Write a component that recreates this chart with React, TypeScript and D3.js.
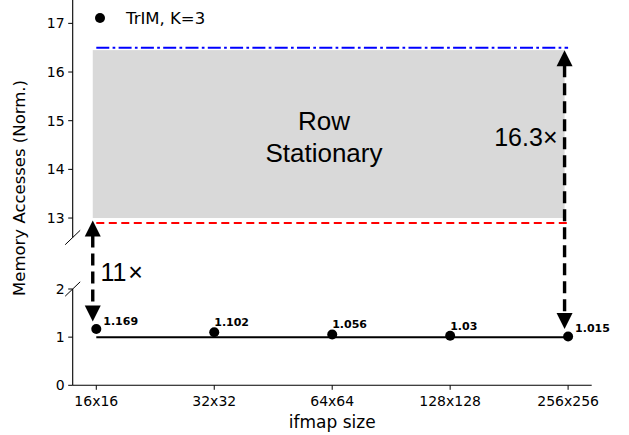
import React from 'react';
import * as d3 from 'd3';

// ifmap sizes on the x axis
const categories = ['16x16', '32x32', '64x64', '128x128', '256x256'];
// TrIM, K=3 normalised memory accesses
const trimValues = [1.169, 1.102, 1.056, 1.03, 1.015];
const trimLabels = ['1.169', '1.102', '1.056', '1.03', '1.015'];

const topTicks = [13, 14, 15, 16, 17];
const bottomTicks = [0, 1, 2];

// Row Stationary band (top panel) and reference lines
const rowStationaryBand = [13, 16.45];
const redLineValue = 12.9;
const blueLineValue = 16.5;
const baselineValue = 1;

// gap ratios written next to the arrows
const ratioLeft = '11';
const ratioRight = '16.3×';

const W = 629;
const H = 435;
const tickFont = 'DejaVu Sans, sans-serif';
const noteFont = 'Liberation Sans, Arial, sans-serif';

const App: React.FC = () => {
  const x = d3.scaleLinear().domain([-0.2, 4.2]).range([72.7, 591.7]);
  const yTop = d3.scaleLinear().domain([12.6, 17.48]).range([237.5, 0]);
  const yBot = d3.scaleLinear().domain([0, 2]).range([385.3, 289]);

  const axisX = x(-0.2);
  const last = categories.length - 1;

  const line = d3.line<number>()
    .x((_, i) => x(i))
    .y(() => yBot(baselineValue));

  // vertical double-headed dashed arrow
  const arrow = (ax: number, yTopTip: number, yBotTip: number) => {
    const hw = 8;
    const hh = 16;
    return (
      <g>
        <line x1={ax} x2={ax} y1={yTopTip + hh - 1} y2={yBotTip - hh + 1}
          stroke="#000" strokeWidth={3.4} strokeDasharray="12,6" />
        <path d={`M${ax},${yTopTip} L${ax - hw},${yTopTip + hh} L${ax + hw},${yTopTip + hh} Z`} fill="#000" />
        <path d={`M${ax},${yBotTip} L${ax - hw},${yBotTip - hh} L${ax + hw},${yBotTip - hh} Z`} fill="#000" />
      </g>
    );
  };

  const breakMark = (cy: number) => (
    <line x1={axisX - 7.5} x2={axisX + 7.5} y1={cy + 7.2} y2={cy - 7.2} stroke="#000" strokeWidth={1} />
  );

  return (
    <svg width={W} height={H} style={{ position: 'absolute', left: 0, top: 0, background: '#fff' }}>
      {/* Row Stationary band */}
      <rect x={x(-0.03)} width={x(3.97) - x(-0.03)}
        y={yTop(rowStationaryBand[1])} height={yTop(rowStationaryBand[0]) - yTop(rowStationaryBand[1])}
        fill="#d9d9d9" />
      <line x1={x(0)} x2={x(4)} y1={yTop(blueLineValue)} y2={yTop(blueLineValue)}
        stroke="#0000ff" strokeWidth={2} strokeDasharray="13,3.3,2.7,3.3" />
      <line x1={x(0)} x2={x(4)} y1={yTop(redLineValue)} y2={yTop(redLineValue)}
        stroke="#ff0000" strokeWidth={2} strokeDasharray="8,4.5" />

      <text textAnchor="middle" fontFamily={noteFont} fontSize={26} fill="#000">
        <tspan x={x(1.93)} y={yTop(14.8)}>Row</tspan>
        <tspan x={x(1.93)} y={yTop(14.15)}>Stationary</tspan>
      </text>
      <text x={x(3.91)} y={yTop(14.49)} textAnchor="end" fontFamily={noteFont} fontSize={25} fill="#000">
        {ratioRight}
      </text>
      <text x={x(0.035)} y={yBot(2) - 8} fontFamily={noteFont} fontSize={25} fill="#000">
        {ratioLeft}<tspan dx={2}>×</tspan>
      </text>

      {/* top panel axis */}
      <line x1={axisX} x2={axisX} y1={0} y2={yTop(12.6)} stroke="#000" strokeWidth={1.1} />
      {topTicks.map((t) => (
        <g key={`tt${t}`}>
          <line x1={axisX - 4.5} x2={axisX} y1={yTop(t)} y2={yTop(t)} stroke="#000" strokeWidth={1} />
          <text x={axisX - 8} y={yTop(t)} dy="0.35em" textAnchor="end" fontFamily={tickFont} fontSize={14} fill="#000">{t}</text>
        </g>
      ))}
      {breakMark(yTop(12.6))}

      {/* bottom panel axes */}
      <line x1={axisX} x2={axisX} y1={yBot(2)} y2={yBot(0)} stroke="#000" strokeWidth={1.1} />
      <line x1={axisX} x2={x(4.2)} y1={yBot(0)} y2={yBot(0)} stroke="#000" strokeWidth={1.1} />
      {bottomTicks.map((t) => (
        <g key={`bt${t}`}>
          <line x1={axisX - 4.5} x2={axisX} y1={yBot(t)} y2={yBot(t)} stroke="#000" strokeWidth={1} />
          <text x={axisX - 8} y={yBot(t)} dy="0.35em" textAnchor="end" fontFamily={tickFont} fontSize={14} fill="#000">{t}</text>
        </g>
      ))}
      {breakMark(yBot(2))}
      {categories.map((c, i) => (
        <g key={c}>
          <line x1={x(i)} x2={x(i)} y1={yBot(0)} y2={yBot(0) + 4.5} stroke="#000" strokeWidth={1} />
          <text x={x(i)} y={yBot(0) + 21} textAnchor="middle" fontFamily={tickFont} fontSize={14} fill="#000">{c}</text>
        </g>
      ))}

      {/* TrIM series */}
      <path d={line(trimValues) || ''} fill="none" stroke="#000" strokeWidth={2} />
      {trimValues.map((v, i) => (
        <g key={`p${i}`}>
          <circle cx={x(i)} cy={yBot(v)} r={5} fill="#000" />
          <text x={x(i) + (i === 0 || i === last ? 7 : 0)} y={yBot(v) - (i === 0 || i === last ? 4.5 : 6)}
            fontFamily={tickFont} fontWeight="bold" fontSize={11} fill="#000">{trimLabels[i]}</text>
        </g>
      ))}

      {arrow(x(-0.03), yTop(12.95), yBot(trimValues[0]) - 7.5)}
      {arrow(x(3.97), yTop(16.45), yBot(trimValues[last]) - 7.5)}

      {/* legend */}
      <circle cx={100} cy={18} r={5} fill="#000" />
      <text x={126} y={23.5} fontFamily={tickFont} fontSize={16.5} fill="#000">TrIM, K=3</text>

      {/* axis titles */}
      <text x={(axisX + x(4.2)) / 2} y={428} textAnchor="middle" fontFamily={tickFont} fontSize={17} fill="#000">ifmap size</text>
      <text transform={`translate(19,${188}) rotate(-90)`} textAnchor="middle" dy="0.35em"
        fontFamily={tickFont} fontSize={16.5} fill="#000">Memory Accesses (Norm.)</text>
    </svg>
  );
};

export default App;
